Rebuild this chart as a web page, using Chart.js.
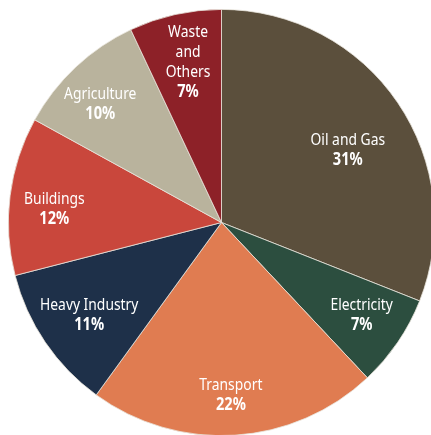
<!DOCTYPE html>
<html lang="en">
<head>
    <meta charset="UTF-8">
    <title>Emissions by sector</title>
    <script src="https://cdn.jsdelivr.net/npm/chart.js"></script>
    <style>
        html, body { margin: 0; padding: 0; background: #fff; overflow: hidden; width: 431px; height: 435px; }
        #wrap { position: absolute; left: 8px; top: 9px; width: 427px; height: 427px; }
    </style>
</head>
<body>
    <div id="wrap"><canvas id="pieChart"></canvas></div>
    <script>
        // data
        const sectors = ['Oil and Gas', 'Electricity', 'Transport', 'Heavy Industry', 'Buildings', 'Agriculture', 'Waste\nand\nOthers'];
        const shares = [31, 7, 22, 11, 12, 10, 7];
        const colors = ['#5b4f3c', '#2c4e3f', '#e07c51', '#1e3049', '#c9473c', '#b9b39d', '#8d2128'];
        // label placement: fraction of radius, and a small turn (degrees) off the slice middle
        const labelRadius = [0.683, 0.788, 0.812, 0.757, 0.787, 0.795, 0.768];
        const labelTurn = [4.4, -0.8, 0.5, -0.7, -2.6, -2.5, 0.8];

        const sliceLabels = {
            id: 'sliceLabels',
            afterDatasetsDraw(chart) {
                const ctx = chart.ctx;
                const meta = chart.getDatasetMeta(0);
                ctx.save();
                ctx.fillStyle = '#ffffff';
                ctx.textAlign = 'center';
                ctx.textBaseline = 'middle';
                meta.data.forEach((arc, i) => {
                    const p = arc.getProps(['x', 'y', 'startAngle', 'endAngle', 'outerRadius'], true);
                    const mid = (p.startAngle + p.endAngle) / 2 + labelTurn[i] * Math.PI / 180;
                    const r = p.outerRadius * labelRadius[i];
                    const cx = p.x + Math.cos(mid) * r;
                    const cy = p.y + Math.sin(mid) * r;
                    const lines = sectors[i].split('\n');
                    lines.push(shares[i] + '%');
                    const lh = 19.8;
                    const top = cy - (lines.length - 1) * lh / 2;
                    lines.forEach((t, j) => {
                        const bold = j === lines.length - 1;
                        ctx.font = (bold ? 'bold 17px' : '16.5px') + ' "Noto Sans", sans-serif';
                        ctx.save();
                        ctx.translate(cx, top + j * lh);
                        ctx.scale(bold ? 0.86 : 0.84, 1);
                        ctx.fillText(t, 0, 0);
                        ctx.restore();
                    });
                });
                ctx.restore();
            }
        };

        const ctx = document.getElementById('pieChart').getContext('2d');
        new Chart(ctx, {
            type: 'pie',
            data: {
                labels: sectors,
                datasets: [{
                    data: shares,
                    backgroundColor: colors,
                    borderColor: '#e8e4dc',
                    borderWidth: 0.8
                }]
            },
            options: {
                responsive: true,
                maintainAspectRatio: false,
                animation: false,
                layout: { padding: 0 },
                plugins: {
                    legend: { display: false },
                    tooltip: { enabled: false }
                }
            },
            plugins: [sliceLabels]
        });
    </script>
</body>
</html>
